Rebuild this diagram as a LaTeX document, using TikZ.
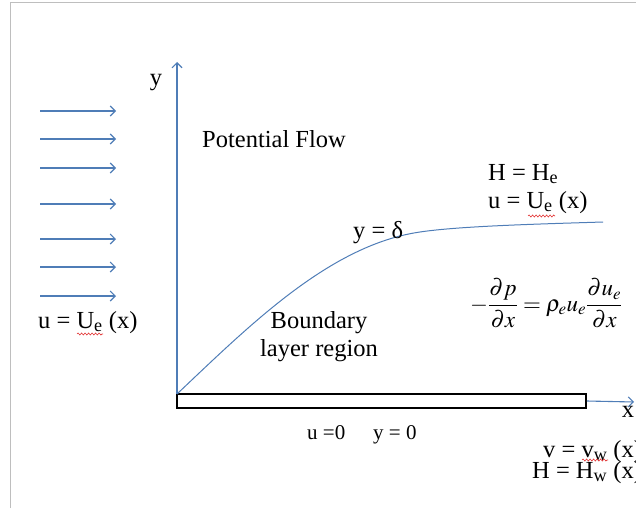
\documentclass[tikz,border=0pt]{standalone}
\usepackage{amsmath}
\usepackage{mathptmx}
\usepackage[no-math]{fontspec}
\setmainfont{Liberation Serif}
\usetikzlibrary{arrows.meta,decorations.pathmorphing}
\definecolor{flowblue}{RGB}{79,125,183}
\definecolor{framegray}{RGB}{190,190,190}
\definecolor{squigred}{RGB}{225,45,45}
\tikzset{
  flowarrow/.style={draw=flowblue, line width=1.1pt, -{Straight Barb[length=5pt,width=10pt]}},
  axisline/.style={draw=flowblue, line width=1.1pt, -{Straight Barb[length=5pt,width=10pt]}},
  curveline/.style={draw=flowblue, line width=1pt},
  lbl/.style={font=\fontsize{24.5}{28}\selectfont, inner sep=0pt},
  smalllbl/.style={font=\fontsize{21}{24}\selectfont, inner sep=0pt},
  squig/.style={draw=squigred, line width=0.6pt, decorate, decoration={snake, amplitude=1pt, segment length=3.5pt}},
  plate/.style={draw=black, line width=1.6pt, fill=white, inner sep=0pt, minimum width=409pt, minimum height=14pt},
  frameline/.style={draw=framegray, line width=1pt},
}
\begin{document}
\begin{tikzpicture}[x=1pt,y=-1pt]
\useasboundingbox (0,0) rectangle (636,508);
% frame
\coordinate (fbl) at (10,508);
\coordinate (ftl) at (10,3);
\coordinate (ftr) at (636,3);
\draw[frameline] (fbl) -- (ftl) -- (ftr);
% incoming flow arrows
\foreach \yy [count=\i] in {111,139,168,204,239,267,296} {
  \coordinate (a\i) at (40,\yy);
  \coordinate (b\i) at (116,\yy);
  \draw[flowarrow] (a\i) -- (b\i);
}
% plate
\node[plate] (plate) at (381.5,401) {};
% axes
\coordinate (yo) at (177,394);
\coordinate (ytop) at (177,62);
\draw[axisline] (yo) -- (ytop);
\coordinate (xend) at (634,402);
\draw[axisline] (plate.east) -- (xend);
% boundary layer edge
\coordinate (bm) at (420,232);
\coordinate (bend) at (603,222);
\draw[curveline] (yo) .. controls (250,325) and (330,245) .. (bm)
  .. controls (460,226) and (540,224) .. (bend);
% labels
\node[lbl, anchor=base] (ylab) at (156,86) {y};
\node[lbl] (xlab) at (628,412) {x};
\node[lbl, anchor=base west] (uleft) at (38,328) {u = U\textsubscript{e} (x)};
\node[lbl, anchor=base west] (pot) at (202,147) {Potential Flow};
\node[lbl, anchor=base west] (He) at (488,180) {H = H\textsubscript{e}};
\node[lbl, anchor=base west] (ue) at (488,208) {u = U\textsubscript{e} (x)};
\node[lbl, anchor=base west] (delta) at (353,238) {y = δ};
\node[lbl, anchor=base, align=center] (bl) at (319,356) {Boundary\\layer region};
\node[smalllbl, anchor=base west] (u0) at (307,439) {u =0};
\node[smalllbl, anchor=base west] (y0) at (373,439) {y = 0};
\node[lbl, anchor=base west] (vw) at (543,457) {v = v\textsubscript{w} (x)};
\node[lbl, anchor=base west] (Hw) at (532,478) {H = H\textsubscript{w} (x)};
\node[anchor=west, inner sep=0pt, font=\fontsize{23}{27}\selectfont] (eq) at (470,303)
  {$-\dfrac{\partial p}{\partial x}=\rho_e u_e\dfrac{\partial u_e}{\partial x}$};
% spell-check squiggles
\coordinate (s1a) at (77,334); \coordinate (s1b) at (103,334);
\coordinate (s2a) at (528,216); \coordinate (s2b) at (555,216);
\coordinate (s3a) at (582,460); \coordinate (s3b) at (608,460);
\draw[squig] (s1a) -- (s1b);
\draw[squig] (s2a) -- (s2b);
\draw[squig] (s3a) -- (s3b);
\end{tikzpicture}
\end{document}
